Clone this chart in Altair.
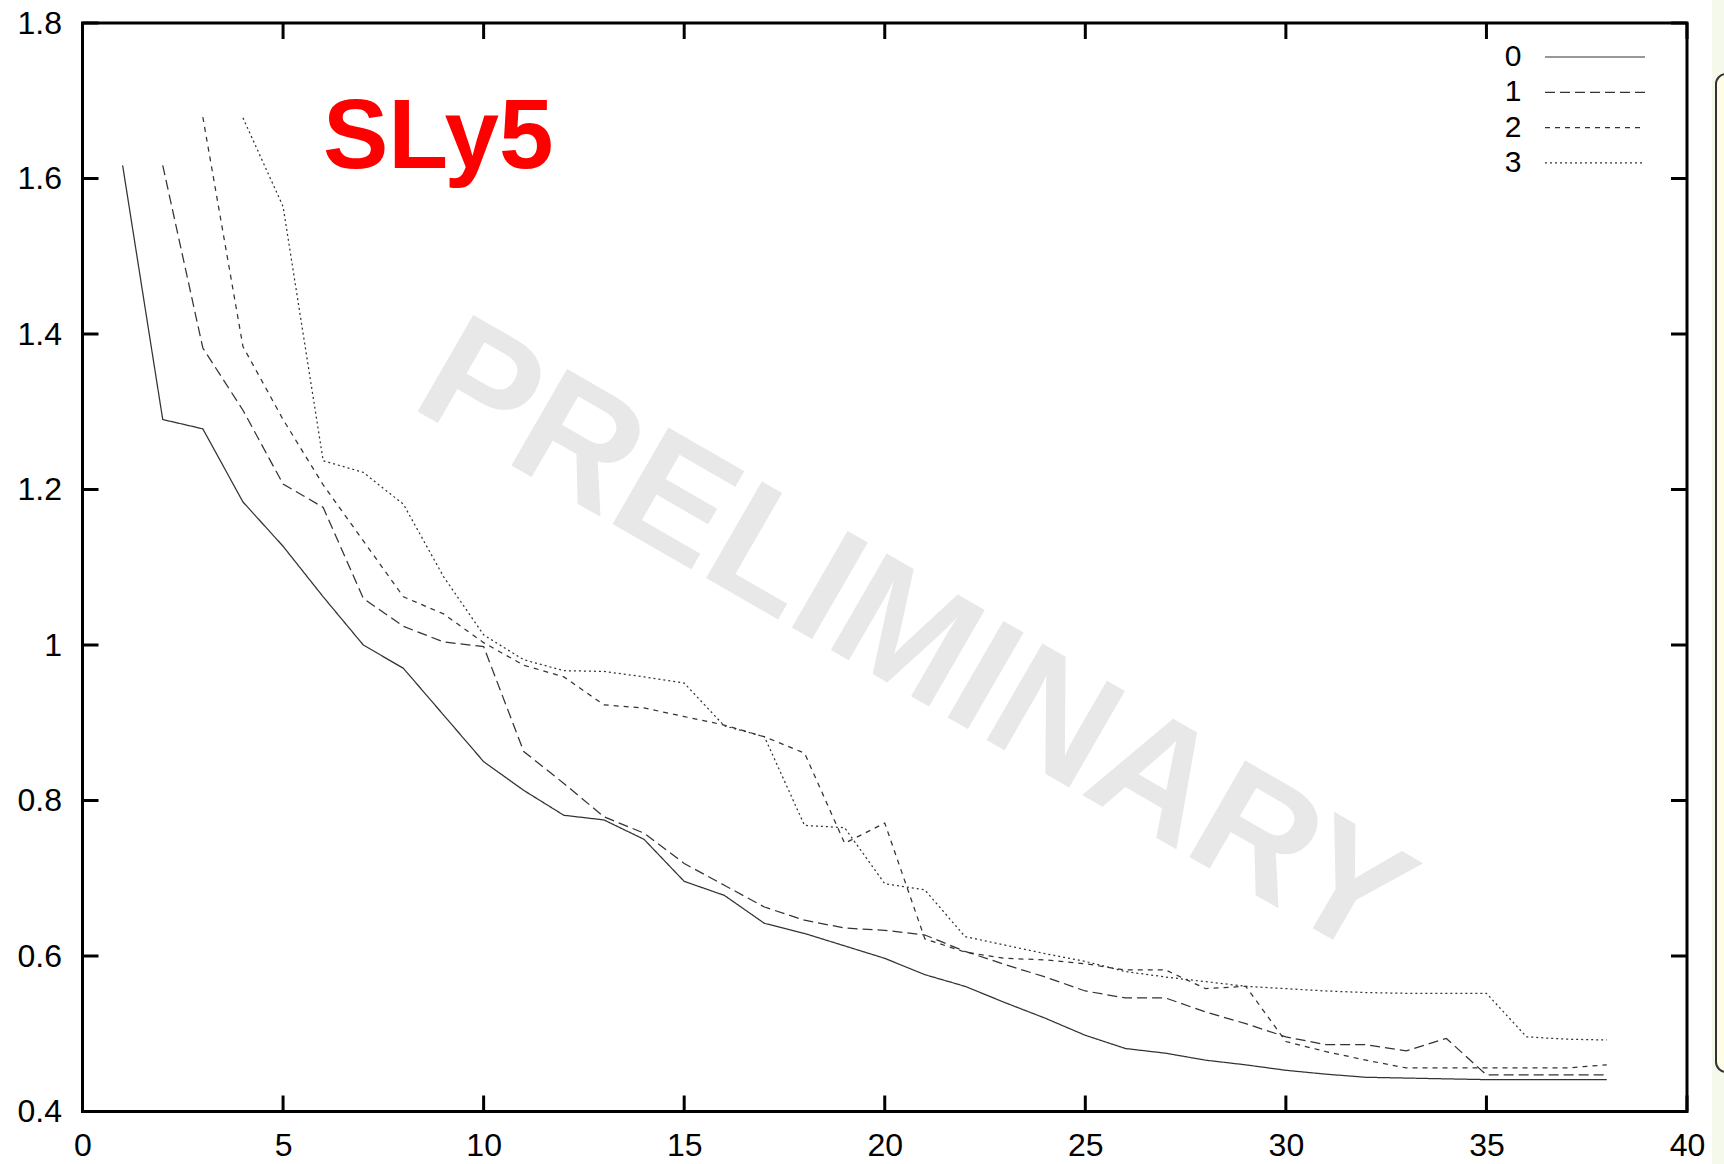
import altair as alt
import pandas as pd

# ---- data -------------------------------------------------------------
series_names = ["0", "1", "2", "3"]
series_start = [1, 2, 3, 4]  # first abscissa of each curve

values_0 = [1.617, 1.290, 1.278, 1.184, 1.127, 1.062, 1.000, 0.970, 0.910, 0.850,
            0.813, 0.781, 0.775, 0.750, 0.696, 0.678, 0.642, 0.629, 0.613, 0.597,
            0.576, 0.561, 0.540, 0.520, 0.498, 0.481, 0.475, 0.466, 0.460, 0.453,
            0.448, 0.444, 0.443, 0.442, 0.441, 0.441, 0.441, 0.441]
values_1 = [1.617, 1.382, 1.302, 1.207, 1.177, 1.060, 1.024, 1.004, 0.998, 0.863,
            0.822, 0.779, 0.758, 0.719, 0.691, 0.663, 0.646, 0.636, 0.633, 0.627,
            0.606, 0.589, 0.573, 0.555, 0.546, 0.546, 0.528, 0.513, 0.496, 0.486,
            0.486, 0.478, 0.494, 0.447, 0.447, 0.447, 0.447]
values_2 = [1.679, 1.384, 1.290, 1.206, 1.134, 1.062, 1.040, 1.003, 0.974, 0.959,
            0.923, 0.919, 0.908, 0.897, 0.882, 0.861, 0.745, 0.771, 0.622, 0.605,
            0.597, 0.595, 0.590, 0.582, 0.582, 0.558, 0.561, 0.490, 0.477, 0.466,
            0.456, 0.456, 0.456, 0.456, 0.456, 0.460]
values_3 = [1.678, 1.564, 1.237, 1.222, 1.181, 1.088, 1.013, 0.981, 0.967, 0.966,
            0.959, 0.951, 0.896, 0.882, 0.768, 0.765, 0.693, 0.685, 0.625, 0.614,
            0.603, 0.593, 0.580, 0.573, 0.567, 0.561, 0.558, 0.555, 0.553, 0.552,
            0.552, 0.552, 0.496, 0.493, 0.492]

x_ticks = [0, 5, 10, 15, 20, 25, 30, 35, 40]
y_ticks = [0.4, 0.6, 0.8, 1.0, 1.2, 1.4, 1.6, 1.8]

rows = []
for name, start, vals in zip(series_names, series_start,
                             [values_0, values_1, values_2, values_3]):
    for i, v in enumerate(vals):
        rows.append({"n": start + i, "value": v, "series": name})
curves = pd.DataFrame(rows)
xtick_df = pd.DataFrame({"n": x_ticks})
ytick_df = pd.DataFrame({"value": y_ticks})
key_df = pd.DataFrame({"series": series_names})
labels_df = pd.DataFrame({"watermark": ["PRELIMINARY"], "tag": ["SLy5"]})

# ---- geometry ---------------------------------------------------------
W, H = 1604.5, 1088.5
TICK = 16
FONT = "Liberation Sans"
INK = "#333333"

x_scale = alt.Scale(domain=[0, 40], nice=False, zero=False)
y_scale = alt.Scale(domain=[0.4, 1.8], nice=False, zero=False)
x_axis = alt.Axis(values=x_ticks, labelPadding=19, labelFlush=False, title=None)
y_axis = alt.Axis(values=y_ticks, format="~g", labelPadding=21, labelFlush=False,
                  title=None)
dash_scale = alt.Scale(domain=series_names, range=[[1, 0], [10, 5], [5, 5], [2, 3]])

# pale side panel to the right of the frame
side_strip = alt.Chart(labels_df).mark_rect(color="#f4f9ec").encode(
    x=alt.value(W + 25), x2=alt.value(W + 60), y=alt.value(-30), y2=alt.value(H + 60)
)
side_box = alt.Chart(labels_df).mark_rect(
    fill="#fffde6", stroke=INK, strokeWidth=2, cornerRadius=10
).encode(
    x=alt.value(W + 29), x2=alt.value(W + 80), y=alt.value(51), y2=alt.value(1049)
)

watermark = alt.Chart(labels_df).mark_text(
    angle=30, fontSize=162, font=FONT, fontWeight="bold", color="#e8e8e8",
    align="center", baseline="middle"
).encode(x=alt.value(831), y=alt.value(618), text="watermark:N")

lines = alt.Chart(curves).mark_line(strokeWidth=1.25, color=INK).encode(
    x=alt.X("n:Q", scale=x_scale, axis=x_axis),
    y=alt.Y("value:Q", scale=y_scale, axis=y_axis),
    strokeDash=alt.StrokeDash("series:N", scale=dash_scale, legend=None),
    detail="series:N",
)

# inward ticks on all four sides of the frame
tick_style = dict(color="black", strokeWidth=3)
bottom_ticks = alt.Chart(xtick_df).mark_rule(**tick_style).encode(
    x=alt.X("n:Q", scale=x_scale, axis=x_axis), y=alt.value(H), y2=alt.value(H - TICK)
)
top_ticks = alt.Chart(xtick_df).mark_rule(**tick_style).encode(
    x=alt.X("n:Q", scale=x_scale, axis=x_axis), y=alt.value(0), y2=alt.value(TICK)
)
left_ticks = alt.Chart(ytick_df).mark_rule(**tick_style).encode(
    y=alt.Y("value:Q", scale=y_scale, axis=y_axis), x=alt.value(0), x2=alt.value(TICK)
)
right_ticks = alt.Chart(ytick_df).mark_rule(**tick_style).encode(
    y=alt.Y("value:Q", scale=y_scale, axis=y_axis), x=alt.value(W), x2=alt.value(W - TICK)
)

# key in the top-right corner: label on the left, line sample on the right
KEY_LABEL_X, KEY_LINE_X0, KEY_LINE_X1 = 1439, 1462.5, 1562.5
KEY_ROW0, KEY_STEP = 34, 35.3
key_layers = []
for i, name in enumerate(series_names):
    row_y = KEY_ROW0 + KEY_STEP * i
    base = alt.Chart(key_df).transform_filter(alt.datum.series == name)
    key_layers.append(
        base.mark_text(fontSize=30, font=FONT, color="black",
                       align="right", baseline="middle").encode(
            text="series:N", x=alt.value(KEY_LABEL_X), y=alt.value(row_y))
    )
    key_layers.append(
        base.mark_rule(strokeWidth=1.2, color=INK).encode(
            x=alt.value(KEY_LINE_X0), x2=alt.value(KEY_LINE_X1), y=alt.value(row_y),
            strokeDash=alt.StrokeDash("series:N", scale=dash_scale, legend=None))
    )

tag = alt.Chart(labels_df).mark_text(
    fontSize=98, font=FONT, fontWeight="bold", color="#ff0000",
    align="left", baseline="alphabetic"
).encode(x=alt.value(240.5), y=alt.value(145.3), text="tag:N")

chart = alt.layer(
    side_strip, side_box, watermark, lines,
    bottom_ticks, top_ticks, left_ticks, right_ticks, *key_layers, tag
).properties(
    width=W, height=H,
    autosize=alt.AutoSizeParams(type="none"),
    padding={"left": 82.5, "top": 23, "right": 37, "bottom": 52.5},
    background="white",
).configure_view(
    stroke="black", strokeWidth=3
).configure_axis(
    labelFont=FONT, labelFontSize=32, labelColor="black",
    ticks=False, tickSize=0, domain=False, grid=False
)

chart.save("out.html", embed_options={"renderer": "svg", "actions": False})
